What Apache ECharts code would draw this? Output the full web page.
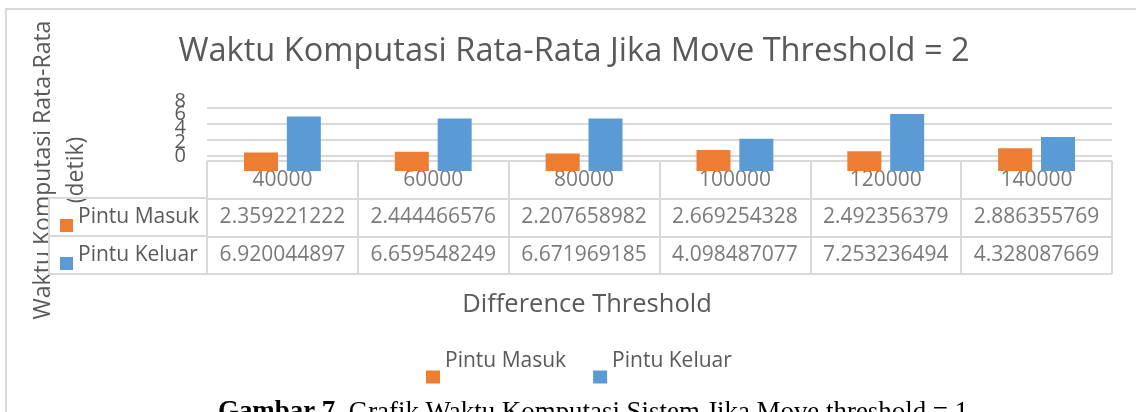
<!DOCTYPE html>
<html>
<head>
<meta charset="utf-8">
<script src="https://cdn.jsdelivr.net/npm/echarts@6/dist/echarts.min.js"></script>
<style>
  html, body { margin: 0; padding: 0; background: #fff; }
  #chart { width: 1136px; height: 412px; }
</style>
</head>
<body>
<div id="chart"></div>
<script>
// data
const categories = ['40000', '60000', '80000', '100000', '120000', '140000']
const seriesNames = ['Pintu Masuk', 'Pintu Keluar']
const pintuMasuk = [2.359221222, 2.444466576, 2.207658982, 2.669254328, 2.492356379, 2.886355769]
const pintuKeluar = [6.920044897, 6.659548249, 6.671969185, 4.098487077, 7.253236494, 4.328087669]
const yMin = 0
const yMax = 8
const yStep = 2
const yTickLabels = ['0', '2', '4', '6', '8']

const chartTitle = 'Waktu Komputasi Rata-Rata Jika Move Threshold = 2'
const xTitle = 'Difference Threshold'
const yTitle = ['Waktu Komputasi Rata-Rata', '(detik)']
const tableRows = ['Kategori', 'Pintu Masuk', 'Pintu Keluar']

const FONT = '"Open Sans", sans-serif'
const TEXT = '#595959'
const LINE = '#d9d9d9'
const colors = ['#ED7D31', '#5B9BD5']

// data table cells: [category, row, text]
const tableData = []
categories.forEach((c, i) => {
  tableData.push([c, tableRows[0], c])
  tableData.push([c, tableRows[1], String(pintuMasuk[i])])
  tableData.push([c, tableRows[2], String(pintuKeluar[i])])
})

const chart = echarts.init(document.getElementById('chart'), null, {renderer: 'canvas'})

const gridLine = {show: true, lineStyle: {color: LINE, width: 2}}
const noAxis = {axisLine: {show: false}, axisTick: {show: false}, axisLabel: {show: false}, splitLine: {show: false}}

chart.setOption({
  animation: false,
  color: colors,
  textStyle: {fontFamily: FONT},
  title: [
    {
      text: chartTitle, left: 569, top: 30, textAlign: 'center',
      textStyle: {fontSize: 32.6, fontWeight: 'normal', color: TEXT, fontFamily: FONT}
    },
    {
      text: xTitle, left: 582, top: 287, textAlign: 'center',
      textStyle: {fontSize: 25.5, fontWeight: 'normal', color: TEXT, fontFamily: FONT}
    }
  ],
  legend: {
    data: seriesNames, left: 426, top: 351, padding: 0,
    itemWidth: 14, itemHeight: 13, itemGap: 27, icon: 'rect',
    formatter: name => '{t|' + name + '}',
    textStyle: {
      fontSize: 21, color: TEXT, fontFamily: FONT,
      rich: {t: {fontSize: 21, color: TEXT, fontFamily: FONT, padding: [0, 0, 31, 0]}}
    }
  },
  grid: [
    // bars
    {left: 207, right: 24, top: 108, height: 63, outerBoundsMode: 'none', containLabel: false},
    // squeezed tick labels, as Excel draws them
    {left: 207, right: 24, top: 101, height: 55, outerBoundsMode: 'none', containLabel: false},
    // data table
    {left: 207, right: 24, top: 161, height: 113, outerBoundsMode: 'none', containLabel: false},
    // table legend-key column
    {left: 49, width: 158, top: 198, height: 76, outerBoundsMode: 'none', containLabel: false}
  ],
  xAxis: [
    {type: 'category', gridIndex: 0, data: categories, ...noAxis},
    {type: 'value', gridIndex: 1, show: false},
    {type: 'category', gridIndex: 2, data: categories, ...noAxis, splitLine: gridLine},
    {type: 'value', gridIndex: 3, show: false, min: 0, max: 1}
  ],
  yAxis: [
    {
      type: 'value', gridIndex: 0, min: yMin, max: yMax, interval: yStep,
      axisLine: {show: false}, axisTick: {show: false}, axisLabel: {show: false},
      splitLine: {show: true, lineStyle: {color: ['rgba(0,0,0,0)', LINE, LINE, LINE, LINE], width: 2}}
    },
    {
      type: 'category', gridIndex: 1, data: yTickLabels, boundaryGap: false,
      axisLine: {show: false}, axisTick: {show: false}, splitLine: {show: false},
      axisLabel: {
        interval: 0, fontSize: 20, color: TEXT, fontFamily: FONT, margin: 21,
        hideOverlap: false, showMinLabel: true, showMaxLabel: true
      }
    },
    {type: 'category', gridIndex: 2, data: tableRows, inverse: true, ...noAxis, splitLine: gridLine},
    {
      type: 'category', gridIndex: 3, data: seriesNames, inverse: true,
      axisLine: {show: true, onZero: false, lineStyle: {color: LINE, width: 2}},
      axisTick: {show: false},
      splitLine: gridLine,
      axisLabel: {
        inside: true, margin: 11,
        formatter: v => (v === seriesNames[0] ? '{m|}' : '{k|}') + '{t|' + v + '}',
        rich: {
          m: {width: 13, height: 13, backgroundColor: colors[0], verticalAlign: 'bottom'},
          k: {width: 13, height: 13, backgroundColor: colors[1], verticalAlign: 'bottom'},
          t: {fontSize: 21, lineHeight: 30, color: TEXT, fontFamily: FONT, padding: [0, 0, 0, 5]}
        }
      }
    }
  ],
  series: [
    {
      type: 'bar', name: seriesNames[0], data: pintuMasuk, xAxisIndex: 0, yAxisIndex: 0,
      barWidth: 34, barGap: '26%', z: 5
    },
    {
      type: 'bar', name: seriesNames[1], data: pintuKeluar, xAxisIndex: 0, yAxisIndex: 0,
      barWidth: 34, barGap: '26%', z: 5
    },
    {
      type: 'scatter', xAxisIndex: 2, yAxisIndex: 2, data: tableData, silent: true,
      symbolSize: 1, itemStyle: {color: 'rgba(0,0,0,0)'},
      label: {
        show: true, position: 'inside', formatter: p => p.value[2],
        fontSize: 21, color: TEXT, fontFamily: FONT
      }
    }
  ],
  graphic: [
    {
      type: 'rect', z: -1, silent: true,
      shape: {x: 6, y: 9, width: 1300, height: 600},
      style: {fill: 'none', stroke: LINE, lineWidth: 2}
    },
    {
      type: 'text', x: 59.5, y: 170, rotation: Math.PI / 2, silent: true,
      style: {
        text: yTitle.join('\n'), fontSize: 23, fontFamily: FONT, fill: TEXT,
        align: 'center', verticalAlign: 'middle', lineHeight: 33
      }
    },
    {
      type: 'text', x: 218, y: 399, silent: true,
      style: {
        text: '{b|Gambar 7.}{n| Grafik Waktu Komputasi Sistem Jika Move threshold = 1}',
        rich: {
          b: {fontSize: 26.9, fontWeight: 'bold', fontFamily: '"Liberation Serif", serif', fill: '#000'},
          n: {fontSize: 26.9, fontFamily: '"Liberation Serif", serif', fill: '#000'}
        }
      }
    }
  ]
})
</script>
</body>
</html>
